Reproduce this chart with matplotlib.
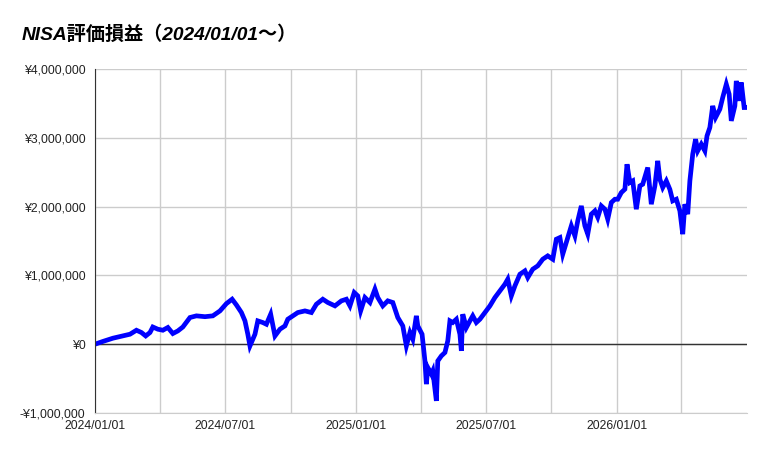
import numpy as np
import pandas as pd
import matplotlib
matplotlib.use("Agg")
import matplotlib.pyplot as plt
import matplotlib.dates as mdates
from matplotlib.ticker import FuncFormatter, FixedLocator

plt.rcParams["font.family"] = ["Liberation Sans", "Noto Sans CJK JP", "DejaVu Sans"]

# NISA unrealised gain (yen)
dates = [
    "2024-01-01", "2024-01-12", "2024-01-26", "2024-02-09", "2024-02-19", "2024-02-28",
    "2024-03-06", "2024-03-12", "2024-03-18", "2024-03-22", "2024-03-29", "2024-04-05",
    "2024-04-12", "2024-04-19", "2024-04-26", "2024-05-03", "2024-05-13", "2024-05-22",
    "2024-06-03", "2024-06-14", "2024-06-24", "2024-07-03", "2024-07-11", "2024-07-17",
    "2024-07-24", "2024-07-29", "2024-08-02", "2024-08-05", "2024-08-12", "2024-08-16",
    "2024-08-23", "2024-08-28", "2024-09-03", "2024-09-09", "2024-09-16", "2024-09-23",
    "2024-09-27", "2024-10-04", "2024-10-11", "2024-10-21", "2024-10-30", "2024-11-06",
    "2024-11-15", "2024-11-22", "2024-12-02", "2024-12-11", "2024-12-18", "2024-12-23",
    "2024-12-29", "2025-01-03", "2025-01-07", "2025-01-13", "2025-01-20", "2025-01-27",
    "2025-01-31", "2025-02-07", "2025-02-14", "2025-02-21", "2025-02-28", "2025-03-07",
    "2025-03-12", "2025-03-17", "2025-03-21", "2025-03-26", "2025-03-28", "2025-04-03",
    "2025-04-07", "2025-04-09", "2025-04-11", "2025-04-16", "2025-04-18", "2025-04-23",
    "2025-04-25", "2025-04-30", "2025-05-05", "2025-05-09", "2025-05-12", "2025-05-16",
    "2025-05-21", "2025-05-26", "2025-05-28", "2025-05-30", "2025-06-04", "2025-06-09",
    "2025-06-13", "2025-06-18", "2025-06-23", "2025-06-30", "2025-07-07", "2025-07-14",
    "2025-07-21", "2025-07-28", "2025-08-01", "2025-08-06", "2025-08-11", "2025-08-18",
    "2025-08-25", "2025-08-29", "2025-09-05", "2025-09-12", "2025-09-19", "2025-09-26",
    "2025-10-03", "2025-10-08", "2025-10-13", "2025-10-17", "2025-10-22", "2025-10-29",
    "2025-11-03", "2025-11-07", "2025-11-12", "2025-11-17", "2025-11-21", "2025-11-26",
    "2025-12-01", "2025-12-05", "2025-12-10", "2025-12-15", "2025-12-19", "2025-12-24",
    "2025-12-29", "2026-01-02", "2026-01-07", "2026-01-12", "2026-01-15", "2026-01-19",
    "2026-01-23", "2026-01-28", "2026-02-02", "2026-02-06", "2026-02-11", "2026-02-13",
    "2026-02-18", "2026-02-23", "2026-02-27", "2026-03-02", "2026-03-06", "2026-03-11",
    "2026-03-16", "2026-03-20", "2026-03-25", "2026-03-30", "2026-04-03", "2026-04-06",
    "2026-04-10", "2026-04-13", "2026-04-17", "2026-04-21", "2026-04-24", "2026-04-29",
    "2026-05-04", "2026-05-07", "2026-05-11", "2026-05-15", "2026-05-19", "2026-05-25",
    "2026-05-29", "2026-06-03", "2026-06-07", "2026-06-10", "2026-06-15", "2026-06-17",
    "2026-06-21", "2026-06-24", "2026-06-28", "2026-06-30",
]
gain = [
    0, 40000, 87000, 120000, 145000, 203000,
    170000, 120000, 170000, 250000, 218000, 203000,
    243000, 155000, 193000, 250000, 388000, 412000,
    400000, 412000, 484000, 590000, 654000, 571000,
    461000, 339000, 145000, -25000, 145000, 339000,
    315000, 290000, 436000, 120000, 218000, 266000,
    363000, 412000, 460000, 484000, 460000, 581000,
    654000, 606000, 557000, 630000, 654000, 557000,
    751000, 702000, 484000, 678000, 606000, 800000,
    678000, 557000, 630000, 606000, 388000, 266000,
    -25000, 170000, 73000, 412000, 266000, 145000,
    -243000, -581000, -339000, -436000, -388000, -824000,
    -243000, -170000, -121000, 48000, 339000, 315000,
    363000, 145000, -97000, 436000, 242000, 339000,
    412000, 315000, 363000, 460000, 557000, 678000,
    775000, 872000, 945000, 702000, 848000, 1017000,
    1066000, 969000, 1090000, 1139000, 1235000, 1284000,
    1235000, 1526000, 1550000, 1308000, 1478000, 1720000,
    1574000, 1792000, 2010000, 1720000, 1600000, 1890000,
    1938000, 1845000, 2010000, 1962000, 1817000, 2059000,
    2107000, 2107000, 2204000, 2253000, 2616000, 2350000,
    2374000, 1962000, 2301000, 2325000, 2495000, 2568000,
    2035000, 2301000, 2665000, 2398000, 2277000, 2374000,
    2250000, 2083000, 2107000, 1938000, 1599000, 2035000,
    1890000, 2374000, 2762000, 2980000, 2810000, 2907000,
    2810000, 3028000, 3150000, 3464000, 3295000, 3416000,
    3586000, 3779000, 3634000, 3246000, 3464000, 3827000,
    3537000, 3804000, 3440000, 3440000,
]

title = "NISA評価損益（2024/01/01〜）"
y_ticks = [-1000000, 0, 1000000, 2000000, 3000000, 4000000]
x_labels = ["2024-01-01", "2024-07-01", "2025-01-01", "2025-07-01", "2026-01-01"]
x_minor = ["2024-04-01", "2024-10-01", "2025-04-01", "2025-10-01", "2026-04-01"]
x_start, x_end = "2024-01-01", "2026-07-02"

t = pd.to_datetime(dates)

fig = plt.figure(figsize=(7.69, 4.57), dpi=100)
ax = fig.add_axes([95 / 769, 1 - 413 / 457, (747 - 95) / 769, (413 - 69) / 457])

ax.plot(t, gain, color="#0000ff", lw=3.4, solid_joinstyle="miter")

ax.set_xlim(pd.Timestamp(x_start), pd.Timestamp(x_end))
ax.set_ylim(y_ticks[0], y_ticks[-1])

def yen(v, pos):
    v = int(round(v))
    return ("-" if v < 0 else "") + "¥{:,}".format(abs(v))

ax.yaxis.set_major_locator(FixedLocator(y_ticks))
ax.yaxis.set_major_formatter(FuncFormatter(yen))
ax.xaxis.set_major_locator(FixedLocator(mdates.date2num(pd.to_datetime(x_labels))))
ax.xaxis.set_major_formatter(mdates.DateFormatter("%Y/%m/%d"))
ax.xaxis.set_minor_locator(FixedLocator(mdates.date2num(pd.to_datetime(x_minor))))

ax.grid(True, which="both", color="#cccccc", lw=1)
ax.set_axisbelow(True)
ax.axhline(0, color="#333333", lw=1, zorder=1.5)

for s in ["top", "right"]:
    ax.spines[s].set_visible(False)
ax.spines["left"].set_color("#333333")
ax.spines["bottom"].set_color("#cccccc")
ax.tick_params(which="both", length=0)
ax.tick_params(axis="y", labelsize=8.8, colors="#222222", pad=7)
ax.tick_params(axis="x", labelsize=8.8, colors="#222222", pad=5)

fig.text(22 / 769, 1 - 35 / 457, title, fontsize=13.8, fontweight="bold",
         fontstyle="italic", va="center", ha="left", color="#000000")

fig.savefig("out.png", dpi=100)
